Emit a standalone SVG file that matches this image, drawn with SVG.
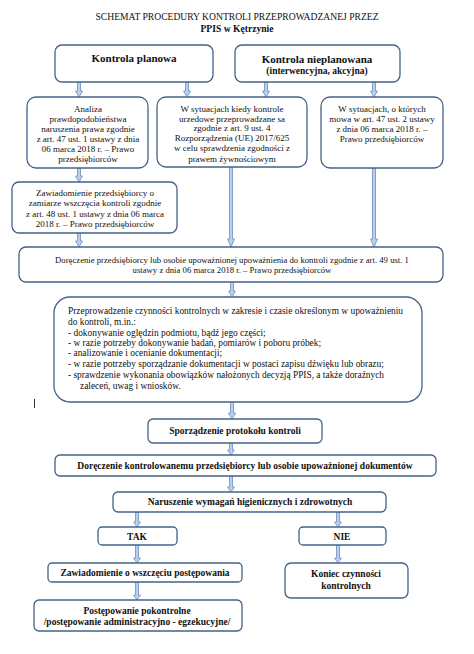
<svg xmlns="http://www.w3.org/2000/svg" width="474" height="654" viewBox="0 0 474 654">
<style>
.b{fill:#fff;stroke:#44618a;stroke-width:1.3}
.a{fill:#b9cfeb;stroke:#6b8fbf;stroke-width:0.8}
text{font-family:"Liberation Serif","Times New Roman",serif;fill:#111}
.t{font-size:9px;text-anchor:middle}
.l{font-size:9.4px}
.h{font-size:11px;font-weight:bold;text-anchor:middle}
.m{font-size:9.5px;font-weight:bold;text-anchor:middle}
</style>
<rect width="474" height="654" fill="#fff"/>
<g id="title">
<text x="237" y="20" style="font-size:9.6px;text-anchor:middle">SCHEMAT PROCEDURY KONTROLI PRZEPROWADZANEJ PRZEZ</text>
<text x="237" y="32" style="font-size:9.6px;font-weight:bold;text-anchor:middle">PPIS w Kętrzynie</text>
</g>
<g id="connectors">
<polygon class="a" points="77.5,82 80.5,82 80.5,91 82.5,91 79,97 75.5,91 77.5,91"/>
<polygon class="a" points="185.5,82 188.5,82 188.5,91 190.5,91 187,97 183.5,91 185.5,91"/>
<polygon class="a" points="264.5,82 267.5,82 267.5,91 269.5,91 266,97 262.5,91 264.5,91"/>
<polygon class="a" points="372.5,82 375.5,82 375.5,91 377.5,91 374,97 370.5,91 372.5,91"/>
<polygon class="a" points="77.5,168 80.5,168 80.5,176 82.5,176 79,182 75.5,176 77.5,176"/>
<polygon class="a" points="77.5,233 80.5,233 80.5,241 82.5,241 79,247 75.5,241 77.5,241"/>
<polygon class="a" points="229.5,167 232.5,167 232.5,239 234.5,239 231,247 227.5,239 229.5,239"/>
<polygon class="a" points="372.5,168 375.5,168 375.5,239 377.5,239 374,247 370.5,239 372.5,239"/>
<polygon class="a" points="230.5,282 233.5,282 233.5,291 235.5,291 232,297 228.5,291 230.5,291"/>
<polygon class="a" points="230.5,402 233.5,402 233.5,413 235.5,413 232,419 228.5,413 230.5,413"/>
<polygon class="a" points="229.5,443 232.5,443 232.5,450 234.5,450 231,455 227.5,450 229.5,450"/>
<polygon class="a" points="229.5,476 232.5,476 232.5,487 234.5,487 231,492 227.5,487 229.5,487"/>
<polygon class="a" points="135.5,512 138.5,512 138.5,522 140.5,522 137,527 133.5,522 135.5,522"/>
<polygon class="a" points="336.5,512 339.5,512 339.5,522 341.5,522 338,527 334.5,522 336.5,522"/>
<polygon class="a" points="135.5,545 138.5,545 138.5,558 140.5,558 137,563 133.5,558 135.5,558"/>
<polygon class="a" points="336.5,545 339.5,545 339.5,558 341.5,558 338,563 334.5,558 336.5,558"/>
<polygon class="a" points="135.5,582 138.5,582 138.5,595 140.5,595 137,600 133.5,595 135.5,595"/>
</g>
<g id="kontrola-planowa">
<rect class="b" x="55" y="45" width="158" height="37" rx="7"/>
<text class="h" x="134" y="62">Kontrola planowa</text>
</g>
<g id="kontrola-nieplanowana">
<rect class="b" x="235" y="45" width="165" height="37" rx="7"/>
<text class="h" x="317" y="63">Kontrola nieplanowana</text>
<text class="m" x="317" y="74">(interwencyjna, akcyjna)</text>
</g>
<g id="analiza">
<rect class="b" x="27" y="97" width="121" height="71" rx="9"/>
<text class="t" x="88" y="112">Analiza</text>
<text class="t" x="88" y="122">prawdopodobieństwa</text>
<text class="t" x="88" y="132">naruszenia prawa zgodnie</text>
<text class="t" x="88" y="142">z art. 47 ust. 1 ustawy z dnia</text>
<text class="t" x="88" y="152">06 marca 2018 r. – Prawo</text>
<text class="t" x="88" y="162">przedsiębiorców</text>
</g>
<g id="sytuacje-ue">
<rect class="b" x="157" y="97" width="150" height="70" rx="9"/>
<text class="t" x="232" y="112">W sytuacjach kiedy kontrole</text>
<text class="t" x="232" y="122">urzedowe przeprowadzane sa</text>
<text class="t" x="232" y="131">zgodnie z art. 9 ust. 4</text>
<text class="t" x="232" y="141">Rozporządzenia (UE) 2017/625</text>
<text class="t" x="232" y="151">w celu sprawdzenia zgodności z</text>
<text class="t" x="232" y="162">prawem żywnościowym</text>
</g>
<g id="sytuacje-art47">
<rect class="b" x="321" y="97" width="122" height="71" rx="9"/>
<text class="t" x="382" y="112">W sytuacjach, o których</text>
<text class="t" x="382" y="122">mowa w art. 47 ust. 2 ustawy</text>
<text class="t" x="382" y="132">z dnia 06 marca 2018 r. –</text>
<text class="t" x="382" y="142">Prawo przedsiębiorców</text>
</g>
<g id="zawiadomienie-zamiar">
<rect class="b" x="12" y="182" width="165" height="51" rx="7"/>
<text class="t" x="95" y="196">Zawiadomienie przedsiębiorcy o</text>
<text class="t" x="95" y="206">zamiarze wszczęcia kontroli zgodnie</text>
<text class="t" x="95" y="217">z art. 48 ust. 1 ustawy z dnia 06 marca</text>
<text class="t" x="95" y="227">2018 r. – Prawo przedsiębiorców</text>
</g>
<g id="doreczenie-upowaznienia">
<rect class="b" x="19" y="247" width="424" height="35" rx="7"/>
<text class="t" x="232" y="263" style="font-size:8.7px">Doręczenie przedsiębiorcy lub osobie upoważnionej upoważnienia do kontroli zgodnie z art. 49 ust. 1</text>
<text class="t" x="232" y="273" style="font-size:8.7px">ustawy z dnia 06 marca 2018 r. – Prawo przedsiębiorców</text>
</g>
<g id="czynnosci">
<rect class="b" x="54" y="297" width="368" height="105" rx="16"/>
<text class="l" x="68" y="314">Przeprowadzenie czynności kontrolnych w zakresie i czasie określonym w upoważnieniu</text>
<text class="l" x="68" y="325">do kontroli, m.in.:</text>
<text class="l" x="68" y="336">- dokonywanie oględzin podmiotu, bądź jego części;</text>
<text class="l" x="68" y="346">- w razie potrzeby dokonywanie badań, pomiarów i poboru próbek;</text>
<text class="l" x="68" y="356">- analizowanie i ocenianie dokumentacji;</text>
<text class="l" x="68" y="367">- w razie potrzeby sporządzanie dokumentacji w postaci zapisu dźwięku lub obrazu;</text>
<text class="l" x="68" y="378">- sprawdzenie wykonania obowiązków nałożonych decyzją PPIS, a także  doraźnych</text>
<text class="l" x="80" y="389">zaleceń, uwag i wniosków.</text>
</g>
<line x1="34.5" y1="399" x2="34.5" y2="408" stroke="#333" stroke-width="1"/>
<g id="protokol">
<rect class="b" x="148" y="419" width="174" height="24" rx="5"/>
<text class="m" x="235" y="434">Sporządzenie protokołu kontroli</text>
</g>
<g id="doreczenie-dokumentow">
<rect class="b" x="55" y="455" width="381" height="21" rx="5"/>
<text class="m" x="245" y="469">Doręczenie kontrolowanemu przedsiębiorcy lub osobie upoważnionej dokumentów</text>
</g>
<g id="naruszenie">
<rect class="b" x="113" y="492" width="273" height="20" rx="5"/>
<text class="m" x="250" y="505">Naruszenie wymagań higienicznych i zdrowotnych</text>
</g>
<g id="tak">
<rect class="b" x="98" y="527" width="79" height="18" rx="4"/>
<text class="m" x="137" y="540">TAK</text>
</g>
<g id="nie">
<rect class="b" x="299" y="527" width="87" height="18" rx="4"/>
<text class="m" x="342" y="540">NIE</text>
</g>
<g id="zawiadomienie-wszczecie">
<rect class="b" x="48" y="563" width="194" height="19" rx="4"/>
<text class="m" x="145" y="576">Zawiadomienie o wszczęciu postępowania</text>
</g>
<g id="postepowanie">
<rect class="b" x="34" y="600" width="208" height="31" rx="5"/>
<text class="m" x="137" y="614">Postępowanie pokontrolne</text>
<text class="m" x="137" y="625">/postępowanie administracyjno  - egzekucyjne/</text>
</g>
<g id="koniec">
<rect class="b" x="285" y="563" width="123" height="35" rx="6"/>
<text class="m" x="346" y="577">Koniec czynności</text>
<text class="m" x="346" y="589">kontrolnych</text>
</g>
</svg>
